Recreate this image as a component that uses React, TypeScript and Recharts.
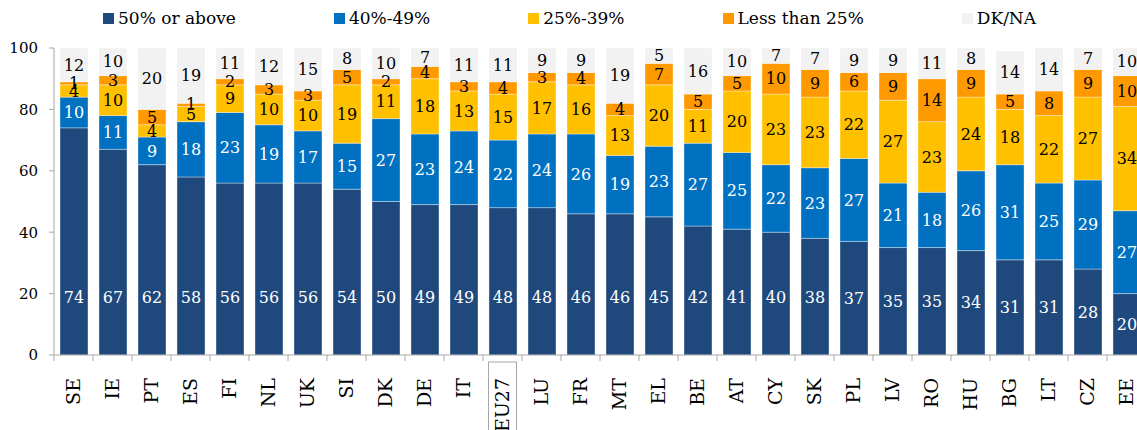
import { BarChart, Bar, XAxis, YAxis, LabelList } from "recharts";

// Share of respondents per country
const countries = [
  "SE", "IE", "PT", "ES", "FI", "NL", "UK", "SI", "DK", "DE", "IT", "EU27", "LU", "FR",
  "MT", "EL", "BE", "AT", "CY", "SK", "PL", "LV", "RO", "HU", "BG", "LT", "CZ", "EE",
];
const above50 = [74, 67, 62, 58, 56, 56, 56, 54, 50, 49, 49, 48, 48, 46, 46, 45, 42, 41, 40, 38, 37, 35, 35, 34, 31, 31, 28, 20];
const from40to49 = [10, 11, 9, 18, 23, 19, 17, 15, 27, 23, 24, 22, 24, 26, 19, 23, 27, 25, 22, 23, 27, 21, 18, 26, 31, 25, 29, 27];
const from25to39 = [4, 10, 4, 5, 9, 10, 10, 19, 11, 18, 13, 15, 17, 16, 13, 20, 11, 20, 23, 23, 22, 27, 23, 24, 18, 22, 27, 34];
const below25 = [1, 3, 5, 1, 2, 3, 3, 5, 2, 4, 3, 4, 3, 4, 4, 7, 5, 5, 10, 9, 6, 9, 14, 9, 5, 8, 9, 10];
const dkna = [12, 10, 20, 19, 11, 12, 15, 8, 10, 7, 11, 11, 9, 9, 19, 5, 16, 10, 7, 7, 9, 9, 11, 8, 14, 14, 7, 10];
const yTicks = [0, 20, 40, 60, 80, 100];

const series = [
  { key: "above50", name: "50% or above", color: "#1F497D", text: "#ffffff" },
  { key: "from40to49", name: "40%-49%", color: "#0070C0", text: "#ffffff" },
  { key: "from25to39", name: "25%-39%", color: "#FFC000", text: "#000000" },
  { key: "below25", name: "Less than 25%", color: "#FF9900", text: "#000000" },
  { key: "dkna", name: "DK/NA", color: "#F2F2F2", text: "#000000" },
];

const data = countries.map((country, i) => ({
  country,
  above50: above50[i],
  from40to49: from40to49[i],
  from25to39: from25to39[i],
  below25: below25[i],
  dkna: dkna[i],
}));

const FONT = "'DejaVu Serif', serif";
const GREY = "#a6a6a6";
const LABEL_SIZE = 16;

// x tick: rotated label, plus tick marks on the category boundaries
function CountryTick(props: any) {
  const { x = 0, y = 0, payload } = props;
  const half = payload?.offset ?? 19.5;
  const axisY = y - 8;
  const isEU = payload?.value === "EU27";
  return (
    <g>
      <line x1={x - half} x2={x - half} y1={axisY} y2={axisY + 6} stroke={GREY} />
      {isEU && (
        <rect x={x - 14} y={axisY + 7} width={28} height={90} fill="none" stroke={GREY} />
      )}
      <text
        transform={`translate(${x},${axisY + 23}) rotate(-90)`}
        textAnchor="end"
        dy="0.36em"
        fontSize={19}
        fontFamily={FONT}
        fill="#000"
      >
        {payload?.value}
      </text>
    </g>
  );
}

// bottom segment labels sit low in the bar, not at its middle
function BaseLabel(props: any) {
  const { x = 0, y = 0, width = 0, height = 0, value } = props;
  const base = y + height;
  const ly = Math.max(base - 58, y + height / 2);
  return (
    <text
      x={x + width / 2}
      y={ly}
      textAnchor="middle"
      dominantBaseline="central"
      fontSize={LABEL_SIZE}
      fontFamily={FONT}
      fill="#ffffff"
    >
      {value}
    </text>
  );
}

function Legend() {
  return (
    <div
      style={{
        position: "absolute",
        left: 103,
        top: 8,
        display: "flex",
        alignItems: "center",
        fontFamily: FONT,
        fontSize: 17,
        whiteSpace: "nowrap",
        color: "#000",
      }}
    >
      {series.map((s) => (
        <div key={s.key} style={{ display: "flex", alignItems: "center", marginRight: 98 }}>
          <span style={{ display: "inline-block", width: 11, height: 11, background: s.color, marginRight: 4 }} />
          <span>{s.name}</span>
        </div>
      ))}
    </div>
  );
}

export default function App() {
  return (
    <div
      style={{
        position: "absolute",
        left: 0,
        top: 0,
        width: 1137,
        height: 430,
        overflow: "hidden",
        background: "#fff",
      }}
    >
      <Legend />
      <BarChart
        width={1160}
        height={430}
        data={data}
        margin={{ top: 48, right: 14, bottom: 0, left: 0 }}
      >
        <XAxis
          dataKey="country"
          interval={0}
          height={75}
          tickLine={false}
          tickSize={6}
          tickMargin={2}
          axisLine={{ stroke: GREY }}
          tick={<CountryTick />}
        />
        <YAxis
          domain={[0, 100]}
          ticks={yTicks}
          allowDataOverflow
          width={54}
          tickSize={5}
          tickMargin={11}
          axisLine={{ stroke: GREY }}
          tickLine={{ stroke: GREY }}
          tick={{ fontSize: 15, fontFamily: FONT, fill: "#000" }}
        />
        {series.map((s, i) => (
          <Bar
            key={s.key}
            dataKey={s.key}
            name={s.name}
            stackId="a"
            fill={s.color}
            barSize={28}
            stroke="#ffffff"
            strokeOpacity={0.6}
            strokeWidth={0.6}
            isAnimationActive={false}
          >
            {i === 0 ? (
              <LabelList dataKey={s.key} content={<BaseLabel />} />
            ) : (
              <LabelList
                dataKey={s.key}
                position="center"
                fill={s.text}
                fontSize={LABEL_SIZE}
                fontFamily={FONT}
              />
            )}
          </Bar>
        ))}
      </BarChart>
    </div>
  );
}
